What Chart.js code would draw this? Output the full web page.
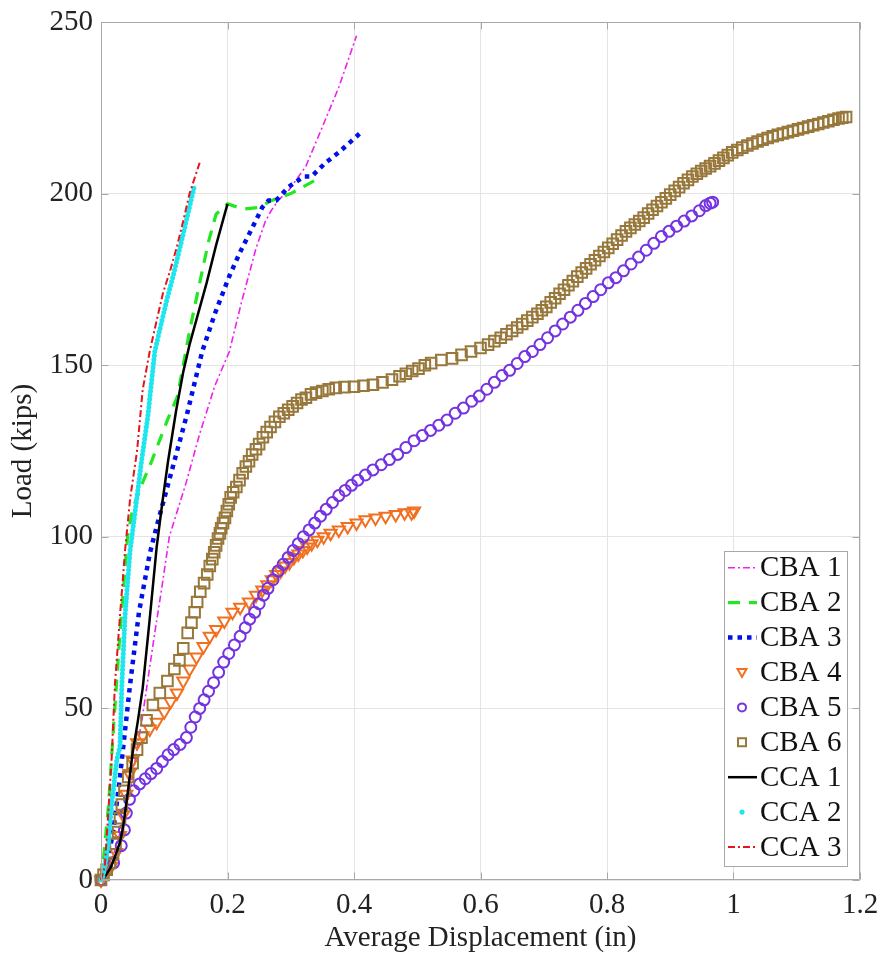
<!DOCTYPE html>
<html>
<head>
<meta charset="utf-8">
<script src="https://cdn.jsdelivr.net/npm/chart.js@4.4.1/dist/chart.umd.min.js"></script>
<style>
  html, body { margin: 0; padding: 0; background: #fff; }
  #chart { display: block; }
</style>
</head>
<body>
<canvas id="chart" width="881" height="955"></canvas>
<script>
// --- data: [displacement (in), load (kips)] ---
const seriesNames = ['CBA 1', 'CBA 2', 'CBA 3', 'CBA 4', 'CBA 5', 'CBA 6', 'CCA 1', 'CCA 2', 'CCA 3'];

const cba1 = [[0,0],[0.01,3],[0.025,10],[0.045,25],[0.065,47],[0.085,72],[0.096,85],[0.108,100],[0.113,103],
  [0.135,116],[0.156,130],[0.18,144],[0.203,154],[0.223,169],[0.245,184],[0.26,192],[0.269,195],[0.28,198],
  [0.297,201],[0.324,208],[0.349,219],[0.376,231],[0.404,246]];

const cba2 = [[0,0],[0.005,8],[0.012,22],[0.02,45],[0.03,72],[0.042,100],[0.05,108],[0.064,115],[0.08,122],
  [0.105,134],[0.121,141],[0.14,160],[0.156,174],[0.17,186],[0.182,194],[0.2,197],[0.225,195.5],[0.25,196],
  [0.27,198],[0.3,200],[0.34,204]];

const cba3 = [[0,0],[0.01,5],[0.02,15],[0.03,30],[0.046,57],[0.06,78],[0.077,95],[0.088,103],[0.113,120],
  [0.135,135],[0.16,154],[0.18,165],[0.203,176],[0.22,183],[0.239,190],[0.255,196],[0.265,198],[0.277,198],
  [0.297,202],[0.321,205],[0.333,205],[0.355,209],[0.376,212],[0.412,218]];

const cba4 = [[0,0],[0.008,2],[0.016,4],[0.024,8],[0.03,13],[0.035,19],[0.04,25],[0.045,31],[0.05,35],[0.057,40],
  [0.066,42],[0.077,44],[0.088,46],[0.1,49],[0.11,52],[0.12,54.5],[0.13,58],[0.14,61.5],[0.151,65],[0.162,68],
  [0.172,71],[0.182,73],[0.195,75.5],[0.208,78],[0.22,79.5],[0.234,81],[0.245,83],[0.255,84.5],[0.263,86],[0.27,87.5],
  [0.277,89],[0.284,90],[0.291,91.5],[0.298,92.5],[0.305,94],[0.312,95],[0.319,96],[0.326,97],[0.333,98],[0.342,99],
  [0.352,100],[0.363,101],[0.376,102],[0.39,103],[0.404,104],[0.418,105],[0.434,105.5],[0.45,106],[0.466,106.5],
  [0.48,107],[0.491,107],[0.495,107.5]];

const cba5 = [[0,0],[0.02,5],[0.032,10],[0.037,14.6],[0.04,19.5],[0.045,23.5],[0.052,26],[0.061,28],[0.07,29.5],
  [0.079,31],[0.088,32.5],[0.097,34.5],[0.106,36.5],[0.115,38],[0.125,39.5],[0.135,41.5],[0.142,44.5],[0.149,47.5],
  [0.156,50],[0.163,52.5],[0.17,55],[0.178,57.5],[0.186,60.5],[0.194,63.5],[0.202,66],[0.211,68.5],[0.22,71],
  [0.228,73.5],[0.235,76],[0.243,78],[0.25,80.5],[0.257,83],[0.264,85],[0.272,87.5],[0.28,90],[0.288,92],[0.296,94],
  [0.304,96],[0.312,98],[0.32,100],[0.329,102],[0.338,104],[0.347,106],[0.356,108],[0.366,110],[0.376,112],
  [0.386,113.5],[0.396,115],[0.406,116.5],[0.418,118],[0.43,119.5],[0.443,121],[0.456,122.5],[0.469,124],[0.482,126],
  [0.495,128],[0.508,129.5],[0.521,131],[0.534,132.5],[0.547,134],[0.56,136],[0.573,137.5],[0.586,139.5],[0.598,141],
  [0.61,143],[0.622,145],[0.634,147],[0.646,148.5],[0.658,150.5],[0.67,152.5],[0.682,154],[0.694,156],[0.706,158],
  [0.718,160],[0.73,162],[0.742,164],[0.754,166],[0.766,168],[0.778,170],[0.79,172],[0.802,174],[0.814,175.5],
  [0.826,177.5],[0.838,179.5],[0.85,181.5],[0.862,183.5],[0.874,185.5],[0.886,187.5],[0.898,189],[0.91,190.5],
  [0.922,192],[0.934,193.5],[0.946,195],[0.956,196.5],[0.963,197.2],[0.967,197.5]];

const cba6 = [[0,0],[0.004,1.5],[0.009,3],[0.014,5],[0.019,7.5],[0.023,10.5],[0.027,14],[0.03,18],[0.033,22],
  [0.037,26],[0.043,30],[0.05,34],[0.057,38],[0.064,41.5],[0.072,46.5],[0.082,51],[0.093,54.5],[0.105,58],
  [0.116,61.5],[0.124,64],[0.13,67.5],[0.137,72],[0.143,75],[0.148,78],[0.152,81],[0.157,84],[0.163,86.5],
  [0.168,89],[0.172,91.5],[0.176,93.5],[0.179,95.5],[0.182,97.5],[0.185,99.5],[0.188,101],[0.19,102.5],[0.193,104],
  [0.196,105.5],[0.199,107.5],[0.202,109.5],[0.205,111.5],[0.209,113],[0.214,114.5],[0.219,116.5],[0.224,118.5],
  [0.229,120.5],[0.234,122],[0.239,124],[0.245,125.5],[0.25,127],[0.256,129],[0.262,130.5],[0.268,132],[0.275,133.5],
  [0.282,135],[0.289,136],[0.296,137],[0.303,138],[0.31,139],[0.317,140],[0.324,140.5],[0.332,141.5],[0.34,142],
  [0.35,142.5],[0.36,143],[0.371,143.4],[0.385,143.6],[0.4,143.7],[0.415,144],[0.43,144.3],[0.445,145],[0.46,145.8],
  [0.472,146.8],[0.482,147.5],[0.492,148.3],[0.502,149],[0.512,150],[0.522,150.6],[0.538,151.5],[0.555,152],
  [0.57,153],[0.585,154],[0.6,155],[0.612,156],[0.622,157],[0.632,158],[0.641,159],[0.65,160],[0.658,161],[0.666,162],
  [0.674,163],[0.682,164],[0.69,165],[0.697,166],[0.704,167],[0.711,168.3],[0.718,169.5],[0.725,170.8],[0.732,172],
  [0.739,173.3],[0.746,174.5],[0.753,175.8],[0.76,177],[0.767,178.2],[0.774,179.4],[0.781,180.6],[0.788,181.8],
  [0.795,183],[0.802,184.2],[0.809,185.4],[0.816,186.6],[0.823,187.8],[0.83,189],[0.837,190],[0.844,191],[0.851,192],
  [0.858,193],[0.865,194.2],[0.872,195.3],[0.879,196.4],[0.886,197.5],[0.893,198.6],[0.9,199.7],[0.907,200.8],
  [0.914,201.9],[0.921,203],[0.928,204],[0.935,205],[0.942,205.8],[0.949,206.6],[0.956,207.3],[0.963,208],
  [0.97,208.8],[0.977,209.6],[0.984,210.4],[0.991,211.2],[0.998,212],[1.006,212.7],[1.014,213.4],[1.022,214],
  [1.03,214.6],[1.038,215.2],[1.046,215.7],[1.054,216.2],[1.062,216.7],[1.07,217.1],[1.078,217.5],[1.086,217.9],
  [1.094,218.3],[1.102,218.7],[1.11,219.1],[1.118,219.5],[1.126,219.9],[1.134,220.3],[1.142,220.7],[1.15,221.1],
  [1.158,221.5],[1.166,221.9],[1.172,222.1],[1.178,222.3]];

const cca1 = [[0,0],[0.006,1],[0.015,3.5],[0.022,6.7],[0.03,11],[0.035,15.5],[0.042,25],[0.05,37],[0.058,46],
  [0.066,56],[0.077,76],[0.088,97],[0.097,110],[0.106,122],[0.119,137],[0.13,148],[0.14,156],[0.152,164],
  [0.167,174],[0.182,185],[0.2,197]];

const cca2 = [[0,0],[0.003,1],[0.011,9.6],[0.017,22.4],[0.025,35],[0.03,39],[0.033,57],[0.038,77],[0.046,96],
  [0.053,106],[0.064,122],[0.074,135],[0.085,154],[0.095,162],[0.104,169],[0.114,176],[0.124,183.6],[0.136,193],
  [0.148,202.5]];

const cca3 = [[0,0],[0.006,4],[0.011,18],[0.017,36],[0.022,57],[0.03,77],[0.038,96],[0.046,111],[0.057,125],
  [0.066,143],[0.077,154],[0.088,163],[0.098,171],[0.11,178],[0.12,184.5],[0.13,192],[0.14,200],[0.156,209]];

const xMax = 1.2, xStep = 0.2;
const yMax = 250, yStep = 50;
const xTitle = 'Average Displacement (in)';
const yTitle = 'Load (kips)';

const FONT = "'Liberation Serif', 'Times New Roman', serif";

// line style helpers
const lineSet = (label, data, color, width, dash, extra) => Object.assign({
  label, data, showLine: true, borderColor: color, backgroundColor: color,
  borderWidth: width, borderDash: dash, pointRadius: 0, tension: 0, clip: false
}, extra || {});

const markerSet = (label, data, color, style, radius, extra) => Object.assign({
  label, data, showLine: false, pointStyle: style, pointRadius: radius,
  pointBorderColor: color, pointBackgroundColor: 'rgba(0,0,0,0)', pointBorderWidth: 2,
  borderColor: color, backgroundColor: color, clip: false
}, extra || {});

const datasets = [
  lineSet(seriesNames[0], cba1, '#f020f0', 1.6, [7, 3, 2, 3]),
  lineSet(seriesNames[1], cba2, '#22e822', 3.2, [12, 9]),
  lineSet(seriesNames[2], cba3, '#0010e8', 4.5, [4.5, 5]),
  markerSet(seriesNames[3], cba4, '#f07020', 'triangle', 7, { pointRotation: 180 }),
  markerSet(seriesNames[4], cba5, '#7433e0', 'circle', 5.5),
  markerSet(seriesNames[5], cba6, '#98773a', 'rect', 7.5),
  lineSet(seriesNames[6], cca1, '#000000', 2.5, []),
  lineSet(seriesNames[7], cca2, '#1fe6ee', 5, [0, 4], { borderCapStyle: 'round' }),
  lineSet(seriesNames[8], cca3, '#e8141c', 2, [7, 3, 2, 3])
];
// MATLAB stacking: later series on top
datasets.forEach((d, i) => { d.order = datasets.length - i; });

// box, inward ticks and legend
const matlabDecor = {
  id: 'matlabDecor',
  afterDatasetsDraw(chart) {
    const { ctx, chartArea: a, scales } = chart;
    const L = Math.round(a.left) + 0.5, R = Math.round(a.right) - 0.5;
    const T = Math.round(a.top) + 0.5, B = Math.round(a.bottom) - 0.5;
    ctx.save();
    ctx.strokeStyle = '#a8a8a8';
    ctx.lineWidth = 1;
    ctx.beginPath();
    ctx.rect(L, T, R - L, B - T);
    scales.x.ticks.forEach(t => {
      const px = Math.round(scales.x.getPixelForValue(t.value)) + 0.5;
      ctx.moveTo(px, B); ctx.lineTo(px, B - 7);
      ctx.moveTo(px, T); ctx.lineTo(px, T + 7);
    });
    scales.y.ticks.forEach(t => {
      const py = Math.round(scales.y.getPixelForValue(t.value)) + 0.5;
      ctx.moveTo(L, py); ctx.lineTo(L + 7, py);
      ctx.moveTo(R, py); ctx.lineTo(R - 7, py);
    });
    ctx.stroke();
    ctx.restore();
  },
  afterDraw(chart) {
    const { ctx, chartArea: a } = chart;
    const boxR = a.right - 13, boxB = a.bottom - 14;
    const boxW = 123, rowH = 34.9, n = datasets.length;
    const boxT = boxB - (rowH * (n - 1) + 36);
    const boxL = boxR - boxW;
    ctx.save();
    ctx.fillStyle = '#ffffff';
    ctx.fillRect(boxL, boxT, boxW, boxB - boxT);
    ctx.strokeStyle = '#a8a8a8';
    ctx.lineWidth = 1;
    ctx.strokeRect(Math.round(boxL) + 0.5, Math.round(boxT) + 0.5, Math.round(boxW), Math.round(boxB - boxT));
    datasets.forEach((d, i) => {
      const cy = boxT + 17 + i * rowH;
      const x0 = boxL + 4, x1 = boxL + 33, cx = boxL + 18;
      ctx.save();
      if (d.showLine && d.label !== 'CCA 2') {
        ctx.strokeStyle = d.borderColor;
        ctx.lineWidth = d.borderWidth;
        ctx.setLineDash(d.borderDash);
        ctx.beginPath(); ctx.moveTo(x0, cy); ctx.lineTo(x1, cy); ctx.stroke();
      } else if (d.label === 'CCA 2') {
        ctx.fillStyle = d.borderColor;
        ctx.beginPath(); ctx.arc(cx, cy, 2.6, 0, Math.PI * 2); ctx.fill();
      } else {
        ctx.strokeStyle = d.pointBorderColor;
        ctx.lineWidth = 2;
        ctx.beginPath();
        if (d.pointStyle === 'triangle') {
          ctx.moveTo(cx - 4.5, cy - 3.5); ctx.lineTo(cx + 4.5, cy - 3.5); ctx.lineTo(cx, cy + 4.5); ctx.closePath();
        } else if (d.pointStyle === 'circle') {
          ctx.arc(cx, cy, 4, 0, Math.PI * 2);
        } else {
          ctx.rect(cx - 4, cy - 4, 8, 8);
        }
        ctx.stroke();
      }
      ctx.restore();
      ctx.fillStyle = '#111111';
      ctx.font = '29px ' + FONT;
      ctx.textBaseline = 'middle';
      ctx.textAlign = 'left';
      ctx.fillText(d.label, boxL + 36, cy + 1);
    });
    ctx.restore();
  }
};

// drop the label overhang padding so the plot box lands where the figure has it
const noOverhang = s => { s.paddingLeft = 0; s.paddingRight = 0; s.paddingTop = 0; s.paddingBottom = 0; };

new Chart(document.getElementById('chart'), {
  type: 'scatter',
  data: { datasets },
  plugins: [matlabDecor],
  options: {
    responsive: false,
    animation: false,
    events: [],
    layout: { padding: { top: 22, right: 21, left: 0, bottom: 0 } },
    plugins: { legend: { display: false }, tooltip: { enabled: false } },
    scales: {
      x: {
        type: 'linear', min: 0, max: xMax,
        afterFit: s => { s.height = 75; noOverhang(s); },
        grid: { color: '#e4e4e4', lineWidth: 1, drawTicks: false },
        border: { display: false },
        ticks: {
          stepSize: xStep, padding: 8, color: '#222',
          font: { family: FONT, size: 29 },
          callback: v => String(+v.toFixed(1))
        },
        title: {
          display: true, text: xTitle, color: '#222',
          font: { family: FONT, size: 29, lineHeight: 1 },
          padding: { top: 0, bottom: 2.5 }
        }
      },
      y: {
        type: 'linear', min: 0, max: yMax,
        afterFit: s => { s.width = 101; noOverhang(s); },
        grid: { color: '#e4e4e4', lineWidth: 1, drawTicks: false },
        border: { display: false },
        ticks: {
          stepSize: yStep, padding: 8, color: '#222',
          font: { family: FONT, size: 29 }
        },
        title: {
          display: true, text: yTitle, color: '#222',
          font: { family: FONT, size: 29, lineHeight: 1 },
          padding: { top: 8.5, bottom: 0 }
        }
      }
    }
  }
});
</script>
</body>
</html>
